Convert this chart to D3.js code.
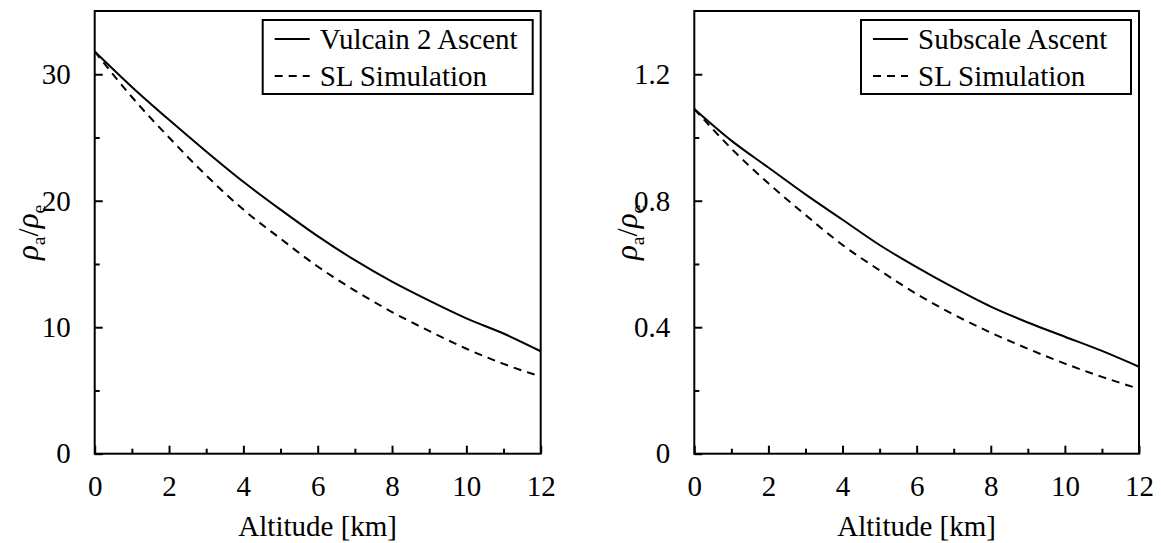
<!DOCTYPE html>
<html><head><meta charset="utf-8">
<script src="https://cdn.jsdelivr.net/npm/d3@7"></script>
<style>
@font-face { font-family: "RefSerif"; src: local("Liberation Serif"), local("LiberationSerif"), local("Times New Roman"); font-style: normal; }
@font-face { font-family: "RefSerif"; src: local("Liberation Serif Italic"), local("LiberationSerif-Italic"); font-style: italic; }
text, tspan { font-family: "Liberation Serif", RefSerif, Tinos, serif; }
</style>
</head>
<body style="margin:0">
<svg id="chart" width="1161" height="543"></svg>
<script>
// ---- data ----
const altitude = [0,1,2,3,4,5,6,7,8,9,10,11,12];
const vulcainAscent = [31.8,29.0,26.4,23.9,21.5,19.3,17.2,15.3,13.6,12.1,10.7,9.5,8.1];
const vulcainSL     = [31.8,28.2,25.0,22.0,19.3,17.0,14.8,12.9,11.2,9.7,8.3,7.1,6.1];
const subscaleAscent = [1.09,0.99,0.905,0.82,0.74,0.66,0.59,0.525,0.465,0.415,0.37,0.325,0.275];
const subscaleSL     = [1.09,0.965,0.855,0.755,0.66,0.58,0.505,0.44,0.383,0.332,0.285,0.243,0.205];
const xMajorTicks = [0,2,4,6,8,10,12];
const xMinorTicks = [1,3,5,7,9,11];
const leftYMajor = [0,10,20,30];
const leftYMinor = [5,15,25];
const rightYMajor = [0,0.4,0.8,1.2];
const rightYMinor = [0.2,0.6,1.0];
const rightYLabels = ["0","0.4","0.8","1.2"];
const legendLeft = ["Vulcain 2 Ascent","SL Simulation"];
const legendRight = ["Subscale Ascent","SL Simulation"];
const xTitle = "Altitude [km]";

const svg = d3.select("#chart");
const FS = 29;

function panel(x0, x1, yTop, yBot, ymax, solid, dashed, yMaj, yMin, yLab, legend) {
  const g = svg.append("g");
  const x = d3.scaleLinear().domain([0,12]).range([x0,x1]);
  const y = d3.scaleLinear().domain([0,ymax]).range([yBot,yTop]);

  const line = d3.line().x((d,i)=>x(altitude[i])).y(d=>y(d)).curve(d3.curveMonotoneX);
  g.append("path").datum(dashed).attr("d",line).attr("fill","none").attr("stroke","#000")
    .attr("stroke-width",2).attr("stroke-dasharray","8,6");
  g.append("path").datum(solid).attr("d",line).attr("fill","none").attr("stroke","#000")
    .attr("stroke-width",2);

  g.append("rect").attr("x",x0).attr("y",yTop).attr("width",x1-x0).attr("height",yBot-yTop)
    .attr("fill","none").attr("stroke","#000").attr("stroke-width",2);

  const xa = g.append("g").attr("transform",`translate(0,${yBot})`)
    .call(d3.axisBottom(x).tickValues(xMajorTicks).tickSizeInner(-8).tickSizeOuter(0).tickPadding(22).tickFormat(d3.format("d")));
  xa.attr("font-family", null).attr("font-size", null);
  xa.select(".domain").remove();
  xa.selectAll("line").attr("stroke-width",2);
  xa.selectAll("text").style("font-size",FS+"px").attr("fill","#000");
  const xm = g.append("g").attr("transform",`translate(0,${yBot})`)
    .call(d3.axisBottom(x).tickValues(xMinorTicks).tickSizeInner(-5).tickSizeOuter(0).tickFormat(""));
  xm.select(".domain").remove();
  xm.selectAll("line").attr("stroke-width",2);

  const ya = g.append("g").attr("transform",`translate(${x0},0)`)
    .call(d3.axisLeft(y).tickValues(yMaj).tickSizeInner(-8).tickSizeOuter(0).tickPadding(24).tickFormat((d,i)=>yLab[i]));
  ya.attr("font-family", null).attr("font-size", null);
  ya.select(".domain").remove();
  ya.selectAll("line").attr("stroke-width",2);
  ya.selectAll("text").style("font-size",FS+"px").attr("fill","#000");
  const ym = g.append("g").attr("transform",`translate(${x0},0)`)
    .call(d3.axisLeft(y).tickValues(yMin).tickSizeInner(-5).tickSizeOuter(0).tickFormat(""));
  ym.select(".domain").remove();
  ym.selectAll("line").attr("stroke-width",2);

  g.append("text").style("font-size",FS+"px").attr("x",(x0+x1)/2).attr("y",536).attr("text-anchor","middle").text(xTitle);

  const yt = g.append("text").style("font-size",FS+"px").attr("transform",`translate(${x0-57},${(yTop+yBot)/2}) rotate(-90)`)
    .attr("text-anchor","middle");
  yt.append("tspan").style("font-style","italic").style("font-size",(FS+2)+"px").text("ρ");
  yt.append("tspan").style("font-size",(FS*0.68)+"px").attr("dy",7).text("a");
  yt.append("tspan").attr("dy",-7).text("/");
  yt.append("tspan").style("font-style","italic").style("font-size",(FS+2)+"px").text("ρ");
  yt.append("tspan").style("font-size",(FS*0.68)+"px").attr("dy",7).text("e");

  const lx0 = x1 - 278, lx1 = x1 - 8, ly0 = yTop + 9, ly1 = yTop + 83;
  g.append("rect").attr("x",lx0).attr("y",ly0).attr("width",lx1-lx0).attr("height",ly1-ly0)
    .attr("fill","#fff").attr("stroke","#000").attr("stroke-width",2);
  const rows = [ {y: yTop+28, dash:null}, {y: yTop+65, dash:"8,6"} ];
  rows.forEach((r,i)=>{
    g.append("line").attr("x1",lx0+12).attr("x2",lx0+47).attr("y1",r.y).attr("y2",r.y)
      .attr("stroke","#000").attr("stroke-width",2).attr("stroke-dasharray",r.dash);
    g.append("text").style("font-size",FS+"px").attr("x",lx0+57).attr("y",r.y+10).text(legend[i]);
  });
}

panel(94.7, 540.7, 11, 453.7, 35, vulcainAscent, vulcainSL, leftYMajor, leftYMinor, leftYMajor.map(String), legendLeft);
panel(694.3, 1139, 11, 453.7, 1.4, subscaleAscent, subscaleSL, rightYMajor, rightYMinor, rightYLabels, legendRight);
</script>
</body></html>
